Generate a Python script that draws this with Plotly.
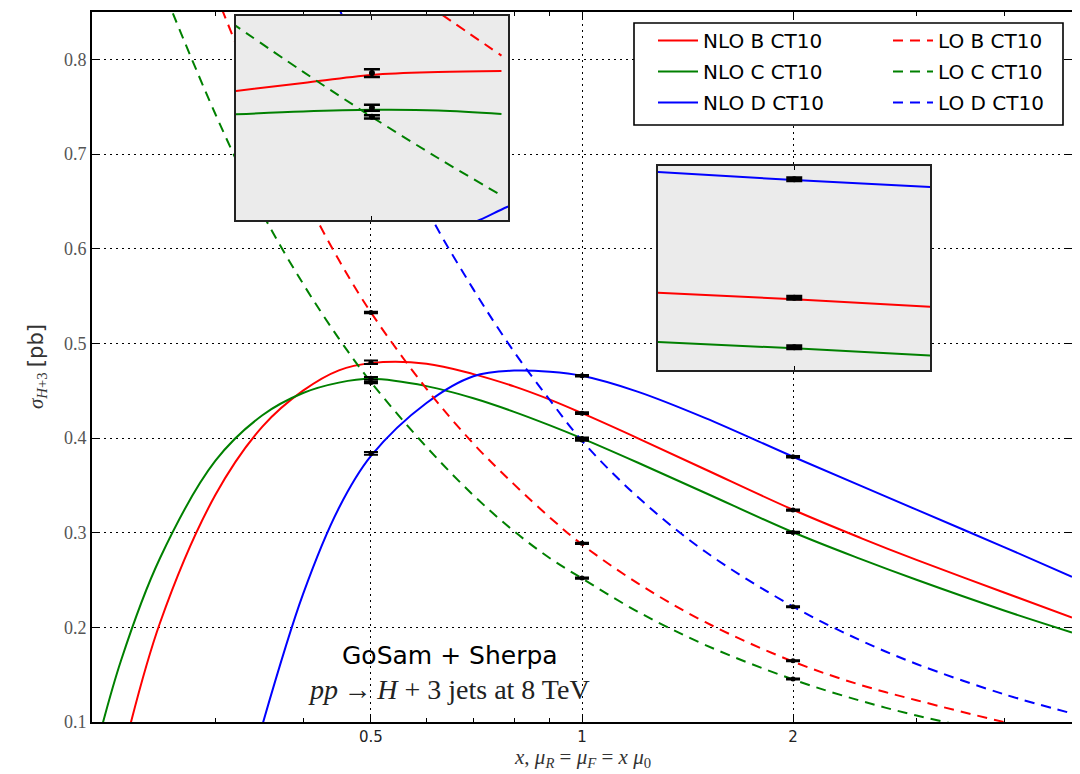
import math
import plotly.graph_objects as go

# ---------------- data ----------------
x_grid = [0.2, 0.22, 0.25, 0.3, 0.35, 0.4, 0.45, 0.5, 0.6, 0.7, 0.8, 0.9, 1.0,
          1.2, 1.5, 2.0, 2.5, 3.0, 4.0, 5.0]

nlo_b = [None, 0.058, 0.2046, 0.340, 0.412, 0.450, 0.4715, 0.4791, 0.4785, 0.4675,
         0.4545, 0.4405, 0.4262, 0.3999, 0.3667, 0.3242, 0.2943, 0.2712, 0.2368, 0.2104]
nlo_c = [0.055, 0.165, 0.273, 0.376, 0.424, 0.4475, 0.4585, 0.4625, 0.4548, 0.4419,
         0.4276, 0.4133, 0.3996, 0.3741, 0.3419, 0.3004, 0.2720, 0.2502, 0.2178, 0.1946]
nlo_d = [None, None, None, None, 0.097, 0.235, 0.326, 0.381, 0.437, 0.4653,
         0.4712, 0.470, 0.4657, 0.449, 0.421, 0.3802, 0.3495, 0.3243, 0.2848, 0.2534]
lo_b = [None, None, None, 0.870, 0.750, 0.659, 0.588, 0.5326, 0.452, 0.394,
        0.351, 0.316, 0.2875, 0.2467, 0.2054, 0.1638, 0.139, 0.123, 0.100, 0.085]
lo_c = [None, None, 0.882, 0.742, 0.6375, 0.563, 0.505, 0.459, 0.3905, 0.3395,
        0.3015, 0.273, 0.2517, 0.2167, 0.1813, 0.1449, 0.1223, 0.1069, 0.0869, 0.0743]
lo_d = [None, None, None, None, None, None, 0.855, 0.7698, 0.6426, 0.557,
        0.491, 0.440, 0.397, 0.3379, 0.2798, 0.2220, 0.1860, 0.1613, 0.1293, 0.1091]

# calculated points with error bars
pts_x = [0.5, 1.0, 2.0]
nlo_b_pts = [0.4800, 0.4262, 0.3239]
nlo_b_err = [0.0019, 0.0009, 0.0007]
nlo_c_pts = [0.4630, 0.3996, 0.3003]
nlo_c_err = [0.0015, 0.0010, 0.0007]
nlo_d_pts = [0.3837, 0.4657, 0.3802]
nlo_d_err = [0.0015, 0.0008, 0.0007]
lo_b_pts = [0.5326, 0.2887, 0.1647]
lo_b_err = [0.0008, 0.0006, 0.0005]
lo_c_pts = [0.4586, 0.2520, 0.1454]
lo_c_err = [0.0008, 0.0006, 0.0005]
lo_d_pts = [0.7690, 0.3978, 0.2218]
lo_d_err = [0.0008, 0.0006, 0.0005]

# inset 1 (around x = 0.5)
in1_x = [0.46, 0.48, 0.50, 0.52, 0.54]
in1_nlo_b = [0.4710, 0.4752, 0.4791, 0.4805, 0.4810]
in1_nlo_c = [0.4597, 0.4612, 0.4620, 0.4617, 0.4600]
in1_lo_c = [0.5046, 0.4806, 0.4585, 0.4384, 0.4200]
in1_lo_b_x = [0.48, 0.50, 0.52, 0.54]
in1_lo_b = [0.556, 0.5326, 0.510, 0.4886]
in1_nlo_d_x = [0.50, 0.52, 0.533, 0.542, 0.56]
in1_nlo_d = [0.3837, 0.400, 0.408, 0.4145, 0.425]

# inset 2 (around x = 2)
in2_x = [1.95, 2.0, 2.05]
in2_nlo_d = [0.3838, 0.3798, 0.3764]
in2_nlo_b = [0.3264, 0.3231, 0.3195]
in2_nlo_c = [0.3030, 0.2998, 0.2963]

labels = {"nlo_b": "NLO B CT10", "lo_b": "LO B CT10", "nlo_c": "NLO C CT10",
          "lo_c": "LO C CT10", "nlo_d": "NLO D CT10", "lo_d": "LO D CT10"}

RED, GREEN, BLUE = "#ff0000", "#008000", "#0000ff"
DASH = "10px,7px"

# ---------------- layout geometry (reference pixels) ----------------
# the page body adds an 8 px margin, so the figure is drawn 8 px smaller
OFF = 8
W, H = 1080 - OFF, 774 - OFF
L, R, T, B = 92, 1072, 12, 722          # plot area in reference pixels
PW, PH = R - L, B - T


def px(xp):
    return (xp - L) / PW


def py(yp):
    return (B - yp) / PH


I1_XR = [math.log10(0.4612), math.log10(0.5421)]
I1_YR = [0.408, 0.508]
I2_XR = [math.log10(1.952), math.log10(2.049)]
I2_YR = [0.2895, 0.3865]

fig = go.Figure()

curves = [("nlo_b", nlo_b, RED, "solid", "legend"), ("nlo_c", nlo_c, GREEN, "solid", "legend"),
          ("nlo_d", nlo_d, BLUE, "solid", "legend"), ("lo_b", lo_b, RED, DASH, "legend2"),
          ("lo_c", lo_c, GREEN, DASH, "legend2"), ("lo_d", lo_d, BLUE, DASH, "legend2")]
for key, ys, col, dash, lg in curves:
    fig.add_trace(go.Scatter(x=x_grid, y=ys, mode="lines", name=labels[key],
                             legend=lg, legendgroup=key,
                             line=dict(color=col, width=2, dash=dash, shape="spline", smoothing=1.0),
                             connectgaps=False, xaxis="x", yaxis="y"))

all_pts = [(nlo_b_pts, nlo_b_err), (lo_b_pts, lo_b_err), (nlo_c_pts, nlo_c_err),
           (lo_c_pts, lo_c_err), (nlo_d_pts, nlo_d_err), (lo_d_pts, lo_d_err)]
for ys, es in all_pts:
    fig.add_trace(go.Scatter(x=pts_x, y=ys, mode="markers", showlegend=False,
                             marker=dict(color="black", size=5),
                             error_y=dict(type="data", array=es, color="black", thickness=2, width=7),
                             xaxis="x", yaxis="y"))


def inset_bg(xr, yr, xa, ya):
    x0, x1 = 10 ** xr[0], 10 ** xr[1]
    fig.add_trace(go.Scatter(x=[x0, x1, x1, x0, x0], y=[yr[0], yr[0], yr[1], yr[1], yr[0]],
                             mode="lines", fill="toself", fillcolor="#ebebeb",
                             line=dict(width=0, color="#ebebeb"), showlegend=False,
                             hoverinfo="skip", xaxis=xa, yaxis=ya))


# inset 1
inset_bg(I1_XR, I1_YR, "x2", "y2")
for xs, ys, col, dash in [(in1_x, in1_nlo_b, RED, "solid"), (in1_x, in1_nlo_c, GREEN, "solid"),
                          (in1_x, in1_lo_c, GREEN, DASH), (in1_lo_b_x, in1_lo_b, RED, DASH),
                          (in1_nlo_d_x, in1_nlo_d, BLUE, "solid")]:
    fig.add_trace(go.Scatter(x=xs, y=ys, mode="lines", showlegend=False,
                             line=dict(color=col, width=2, dash=dash, shape="spline"),
                             xaxis="x2", yaxis="y2"))
for ys, es in all_pts:
    sel = [(x, y, e) for x, y, e in zip(pts_x, ys, es) if x == 0.5 and I1_YR[0] < y < I1_YR[1]]
    if sel:
        fig.add_trace(go.Scatter(x=[s[0] for s in sel], y=[s[1] for s in sel], mode="markers",
                                 showlegend=False, marker=dict(color="black", size=6),
                                 error_y=dict(type="data", array=[s[2] for s in sel], color="black",
                                              thickness=2.5, width=8),
                                 xaxis="x2", yaxis="y2"))

# inset 2
inset_bg(I2_XR, I2_YR, "x3", "y3")
for ys, col in [(in2_nlo_d, BLUE), (in2_nlo_b, RED), (in2_nlo_c, GREEN)]:
    fig.add_trace(go.Scatter(x=in2_x, y=ys, mode="lines", showlegend=False,
                             line=dict(color=col, width=2), xaxis="x3", yaxis="y3"))
for ys, es in all_pts:
    sel = [(x, y, e) for x, y, e in zip(pts_x, ys, es) if x == 2.0 and I2_YR[0] < y < I2_YR[1]]
    if sel:
        fig.add_trace(go.Scatter(x=[s[0] for s in sel], y=[s[1] for s in sel], mode="markers",
                                 showlegend=False, marker=dict(color="black", size=6),
                                 error_y=dict(type="data", array=[s[2] for s in sel], color="black",
                                              thickness=3, width=8),
                                 xaxis="x3", yaxis="y3"))

grid = dict(showgrid=True, gridcolor="black", gridwidth=1, griddash="2px,4px")
inset_ax = dict(showticklabels=False, showgrid=False, zeroline=False, automargin=False,
                showline=True, linecolor="#222", linewidth=2.2)
leg_common = dict(xanchor="left", yanchor="top", orientation="v", bgcolor="rgba(0,0,0,0)",
                  borderwidth=0, itemwidth=40, traceorder="grouped", tracegroupgap=2,
                  font=dict(family="DejaVu Sans", size=20, color="black"))
fig.update_layout(
    template="none",
    width=W, height=H,
    margin=dict(l=L - OFF, r=W - (R - OFF), t=T - OFF, b=H - (B - OFF), autoexpand=False),
    paper_bgcolor="white", plot_bgcolor="white",
    font=dict(family="DejaVu Sans", color="black"),
    xaxis=dict(type="log", range=[math.log10(0.2), math.log10(5)], domain=[0, 1],
               tickmode="array", tickvals=[0.5, 1, 2], ticktext=["0.5", "1", "2"],
               ticks="inside", ticklen=8, tickwidth=1.2, tickcolor="black",
               tickfont=dict(family="DejaVu Sans", size=15, color="#222"),
               showline=True, linecolor="black", linewidth=1.6, mirror="ticks",
               zeroline=False, automargin=False,
               minor=dict(ticks="inside", ticklen=4, tickwidth=1, tickcolor="black",
                          tickmode="array", tickvals=[0.3, 0.4, 0.6, 0.7, 0.8, 0.9, 3, 4],
                          showgrid=False),
               **grid),
    yaxis=dict(range=[0.1, 0.85], domain=[0, 1],
               tickmode="array", tickvals=[0.1, 0.2, 0.3, 0.4, 0.5, 0.6, 0.7, 0.8],
               ticktext=["0.1", "0.2", "0.3", "0.4", "0.5", "0.6", "0.7", "0.8"],
               ticks="inside", ticklen=8, tickwidth=1.2, tickcolor="black",
               tickfont=dict(family="Liberation Serif", size=18, color="#555"),
               showline=True, linecolor="black", linewidth=1.6, mirror="ticks",
               zeroline=False, automargin=False, **grid),
    xaxis2=dict(type="log", range=I1_XR, domain=[px(236), px(508)], anchor="y2",
                tickmode="array", tickvals=[0.5], ticks="inside", ticklen=4, tickcolor="black",
                mirror="ticks", **inset_ax),
    yaxis2=dict(range=I1_YR, domain=[py(220), py(16)], anchor="x2", ticks="", mirror=True,
                **inset_ax),
    xaxis3=dict(type="log", range=I2_XR, domain=[px(658), px(930)], anchor="y3",
                tickmode="array", tickvals=[2.0], ticks="inside", ticklen=4, tickcolor="black",
                mirror="ticks", **inset_ax),
    yaxis3=dict(range=I2_YR, domain=[py(370), py(166)], anchor="x3", ticks="", mirror=True,
                **inset_ax),
    legend=dict(x=px(653), y=py(21), **leg_common),
    legend2=dict(x=px(888), y=py(21), **leg_common),
    showlegend=True,
)

# legend frame
fig.add_shape(type="rect", xref="paper", yref="paper", x0=px(634), x1=px(1063), y0=py(125), y1=py(23),
              fillcolor="white", line=dict(color="black", width=1.6), layer="above")

fig.add_annotation(x=px(582), y=py(758), xref="paper", yref="paper", showarrow=False,
                   text="<i>x</i>, <i>μ</i><sub><i>R</i></sub> = <i>μ</i><sub><i>F</i></sub> = <i>x</i> <i>μ</i><sub>0</sub>",
                   font=dict(family="Liberation Serif", size=21, color="#333"),
                   xanchor="center", yanchor="middle")
fig.add_annotation(x=px(37), y=py(367), xref="paper", yref="paper", showarrow=False, textangle=-90,
                   text="<i>σ</i><sub><i>H</i>+3</sub> <span style=\"font-family:'DejaVu Sans'\">[pb]</span>",
                   font=dict(family="Liberation Serif", size=21, color="#333"),
                   xanchor="center", yanchor="middle")
fig.add_annotation(x=px(450), y=py(655), xref="paper", yref="paper", showarrow=False,
                   text="GoSam + Sherpa",
                   font=dict(family="DejaVu Sans", size=25, color="black"),
                   xanchor="center", yanchor="middle")
fig.add_annotation(x=px(449), y=py(689), xref="paper", yref="paper", showarrow=False,
                   text="<i>pp</i>\u2009→\u2009<i>H</i> + 3 jets at 8 TeV",
                   font=dict(family="Liberation Serif", size=28, color="#222"),
                   xanchor="center", yanchor="middle")

fig.write_html("out.html")
